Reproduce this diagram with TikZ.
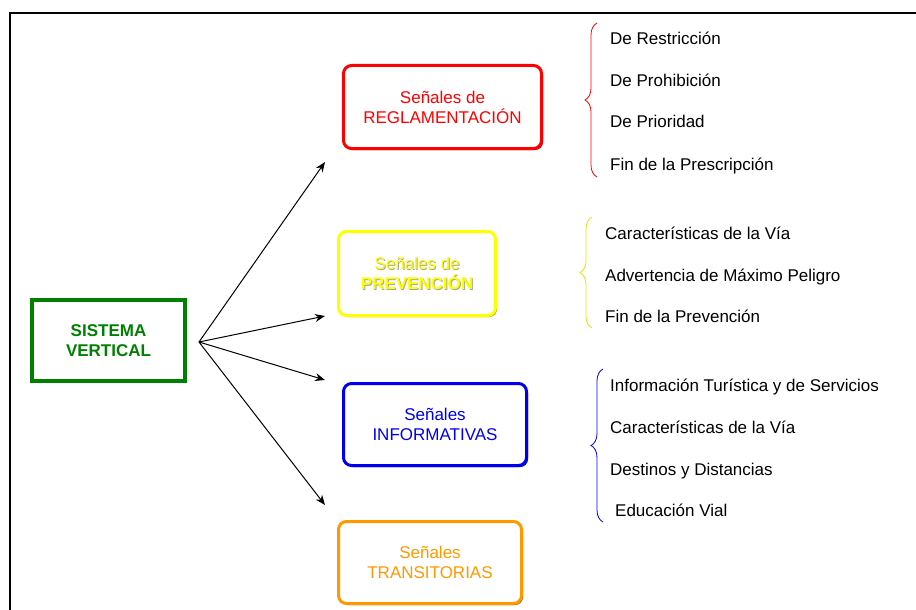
\documentclass[tikz,border=0pt]{standalone}
\usepackage{fontspec}
\setmainfont{Liberation Sans}
\usepackage{tikz}
\usetikzlibrary{arrows.meta,shadows,decorations.pathreplacing}
\definecolor{vgreen}{RGB}{0,128,0}
\definecolor{sred}{RGB}{255,0,0}
\definecolor{syellow}{RGB}{255,255,0}
\definecolor{sblue}{RGB}{0,0,238}
\definecolor{sorange}{RGB}{255,153,0}
\tikzstyle{signbox}=[rectangle, rounded corners=8pt, line width=3pt, fill=white, inner sep=0pt, align=center]
\tikzstyle{bevel}=[drop shadow={shadow xshift=1.5pt, shadow yshift=-1.5pt, opacity=1, fill=#1}]
\tikzstyle{item}=[anchor=base west, inner sep=0pt]
\tikzstyle{branch}=[-{Stealth[length=10pt,width=8pt]}, line width=1pt]
\tikzstyle{listbrace}=[decorate, decoration={brace, amplitude=12pt}, line width=0.8pt]
\newcommand{\shadetext}[1]{\leavevmode\rlap{\hspace{1pt}\raisebox{-1pt}{\color{gray!70}#1}}#1}

\begin{document}
\begin{tikzpicture}[x=1pt, y=-1pt, every node/.style={font=\fontsize{17}{20}\selectfont}]
\useasboundingbox (0,0) rectangle (916,610);
\draw[line width=1.6pt] (10,610) -- (10,13) -- (916,13);

% main box
\node[draw=vgreen, line width=4pt, minimum width=153pt, minimum height=81pt, align=center, inner sep=0pt, text=vgreen, font=\fontsize{17}{20}\selectfont\bfseries] (sist) at (108.5,340.5) {SISTEMA\\VERTICAL};

% sign groups
\node[signbox, bevel=sred!55!black, draw=sred, text=sred, minimum width=198pt, minimum height=83pt] (regl) at (442.5,107) {Señales de\\REGLAMENTACIÓN};
\node[signbox, bevel=syellow!60!black, draw=syellow, text=syellow, minimum width=157pt, minimum height=84pt] (prev) at (417,273.5) {\shadetext{Señales de}\\\shadetext{\bfseries PREVENCIÓN}};
\node[signbox, bevel=sblue!55!black, draw=sblue, text=sblue, minimum width=183pt, minimum height=82pt] (info) at (435,424.5) {Señales\\INFORMATIVAS};
\node[signbox, bevel=sorange!60!black, draw=sorange, text=sorange, minimum width=183pt, minimum height=82pt] (tran) at (430,562.5) {Señales\\TRANSITORIAS};

% arrows
\coordinate (hub) at (199,342);
\coordinate (e1) at (325,162);
\coordinate (e2) at (325,316);
\coordinate (e3) at (325,380);
\coordinate (e4) at (325,505);
\foreach \e in {e1,e2,e3,e4}
  \draw[branch] (hub) -- (\e);

% lists (base lines)
\node[item] (r1) at (610,45) {De Restricción};
\node[item] (r2) at (610,87) {De Prohibición};
\node[item] (r3) at (610,128) {De Prioridad};
\node[item] (r4) at (610,170) {Fin de la Prescripción};
\draw[listbrace, sred] (597,177) -- (597,23);

\node[item] (p1) at (605,239) {Características de la Vía};
\node[item] (p2) at (605,281) {Advertencia de Máximo Peligro};
\node[item] (p3) at (605,322) {Fin de la Prevención};
\draw[listbrace, syellow!90!black] (592,328) -- (592,217);

\node[item] (i1) at (610,391) {Información Turística y de Servicios};
\node[item] (i2) at (610,433) {Características de la Vía};
\node[item] (i3) at (610,475) {Destinos y Distancias};
\node[item] (i4) at (615,516) {Educación Vial};
\draw[listbrace, sblue] (603,522) -- (603,369);
\end{tikzpicture}
\end{document}
